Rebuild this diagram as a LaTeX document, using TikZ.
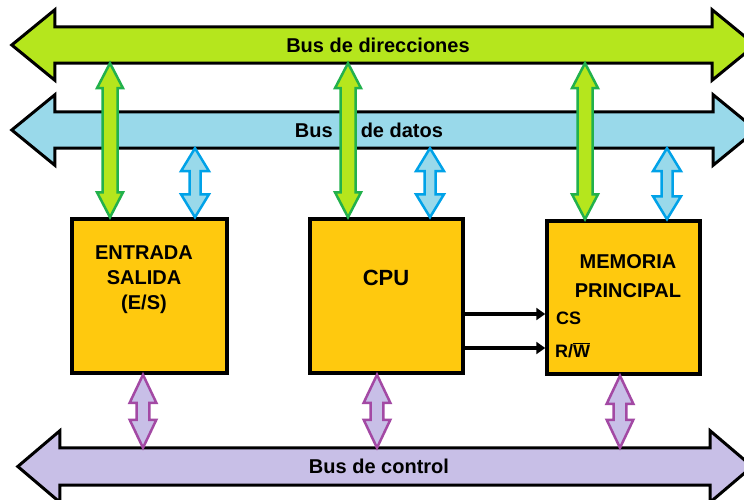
\documentclass[tikz,border=0pt]{standalone}
\usepackage{fontspec}
\setmainfont{Liberation Sans}
\usetikzlibrary{calc,arrows.meta}
\definecolor{lime}{HTML}{B5E61D}
\definecolor{lgreen}{HTML}{22B14C}
\definecolor{lblue}{HTML}{99D9EA}
\definecolor{dblue}{HTML}{00A2E8}
\definecolor{lav}{HTML}{C8BFE7}
\definecolor{purp}{HTML}{A349A4}
\definecolor{gold}{HTML}{FFC90E}
\tikzset{
  shaftbox/.style={inner sep=0pt, minimum height=#1},
  buslabel/.style={inner sep=0pt, font=\fontsize{20}{24}\selectfont\bfseries},
  busline/.style={draw=black, line width=3pt, line join=miter},
  unitbox/.style={draw=black, line width=3.5pt, fill=gold, inner sep=0pt},
  unittext/.style={inner sep=0pt, align=center, font=\fontsize{20}{#1}\selectfont\bfseries},
  sigtext/.style={inner sep=0pt, anchor=west, font=\fontsize{18}{20}\selectfont\bfseries},
  greenarr/.style={draw=lgreen, fill=lime, line width=2.5pt, line join=miter},
  bluearr/.style={draw=dblue, fill=lblue, line width=2.5pt, line join=miter},
  purparr/.style={draw=purp, fill=lav, line width=2.5pt, line join=miter},
  sigline/.style={draw=black, line width=3.5pt, -{Triangle[length=9pt,width=12pt]}},
}
% block bus arrow around a shaft node: #1 fill, #2 node, #3 head extend, #4 head length
\newcommand\busshape[4]{%
  \draw[busline, fill=#1] (#2.north west) -- ++(0,-#3) -- ($(#2.west)+(-#4,0)$)
    -- ($(#2.south west)+(0,#3)$) -- (#2.south west) -- (#2.south east)
    -- ++(0,#3) -- ($(#2.east)+(#4,0)$) -- ($(#2.north east)+(0,-#3)$)
    -- (#2.north east) -- cycle;}
% vertical double block arrow: #1 style, #2 top, #3 bottom, #4 head half width, #5 shaft half width, #6 head length
\newcommand\vdarrow[6]{%
  \path #2 coordinate (vA) #3 coordinate (vB);
  \draw[#1] (vA) -- ([shift={(#4,#6)}]vA) -- ([shift={(#5,#6)}]vA)
    -- ([shift={(#5,-#6)}]vB) -- ([shift={(#4,-#6)}]vB) -- (vB)
    -- ([shift={(-#4,-#6)}]vB) -- ([shift={(-#5,-#6)}]vB)
    -- ([shift={(-#5,#6)}]vA) -- ([shift={(-#4,#6)}]vA) -- cycle;}
\begin{document}
\begin{tikzpicture}[x=1pt,y=-1pt]
\path[fill=white,use as bounding box] (0,0) rectangle (744,499);

% buses
\node[shaftbox=36pt, minimum width=657pt] (addr) at (383.5,45) {};
\busshape{lime}{addr}{17}{43}
\node[buslabel] (addrlbl) at (378,45) {Bus de direcciones};

\node[shaftbox=36pt, minimum width=658pt] (data) at (384,130) {};
\busshape{lblue}{data}{17}{43}
\node[buslabel] (datalbl) at (369,130) {Bus\hspace{28pt}de datos};

\node[shaftbox=37pt, minimum width=650pt] (ctl) at (385,466.5) {};
\busshape{lav}{ctl}{17}{42}
\node[buslabel] (ctllbl) at (379,466.5) {Bus de control};

% units
\node[unitbox, minimum width=155pt, minimum height=154pt] (es) at (149.5,296) {};
\node[unitbox, minimum width=153pt, minimum height=154pt] (cpu) at (386.5,296) {};
\node[unitbox, minimum width=153pt, minimum height=153pt] (mem) at (623.5,297.5) {};

\node[unittext=25pt] (estxt) at (144,280) {ENTRADA\\SALIDA\\(E/S)};
\node[inner sep=0pt, font=\fontsize{22}{26}\selectfont\bfseries] (cputxt) at (386,278) {CPU};
\node[unittext=29pt] (memtxt) at (628,276.5) {MEMORIA\\PRINCIPAL};

% x positions of the bus taps
\coordinate (g1) at (110,0); \coordinate (g2) at (348,0); \coordinate (g3) at (585,0);
\coordinate (b1) at (195,0); \coordinate (b2) at (430,0); \coordinate (b3) at (667,0);
\coordinate (p1) at (143,0); \coordinate (p2) at (377,0); \coordinate (p3) at (620,0);

% address bus taps
\vdarrow{greenarr}{(g1 |- addr.south)}{(g1 |- es.north)}{13}{7.5}{25}
\vdarrow{greenarr}{(g2 |- addr.south)}{(g2 |- cpu.north)}{13}{7.5}{25}
\vdarrow{greenarr}{(g3 |- addr.south)}{(g3 |- mem.north)}{13}{7.5}{25}
% data bus taps
\vdarrow{bluearr}{(b1 |- data.south)}{(b1 |- es.north)}{14}{5.5}{23}
\vdarrow{bluearr}{(b2 |- data.south)}{(b2 |- cpu.north)}{14}{5.5}{23}
\vdarrow{bluearr}{(b3 |- data.south)}{(b3 |- mem.north)}{14}{5.5}{23}
% control bus taps
\vdarrow{purparr}{(p1 |- es.south)}{(p1 |- ctl.north)}{13.3}{6.3}{28}
\vdarrow{purparr}{(p2 |- cpu.south)}{(p2 |- ctl.north)}{13.3}{6.3}{28}
\vdarrow{purparr}{(p3 |- mem.south)}{(p3 |- ctl.north)}{13.3}{6.3}{28}

% CPU -> memory signals
\coordinate (s1) at ($(cpu.east)+(0,18)$);
\coordinate (s2) at ($(cpu.east)+(0,52)$);
\draw[sigline] (s1) -- (s1 -| mem.west);
\draw[sigline] (s2) -- (s2 -| mem.west);
\node[sigtext] (cs) at (556,318) {CS};
\node[sigtext] (rw) at (555,350) {R/\(\overline{\hbox{W}}\)};
\end{tikzpicture}
\end{document}
